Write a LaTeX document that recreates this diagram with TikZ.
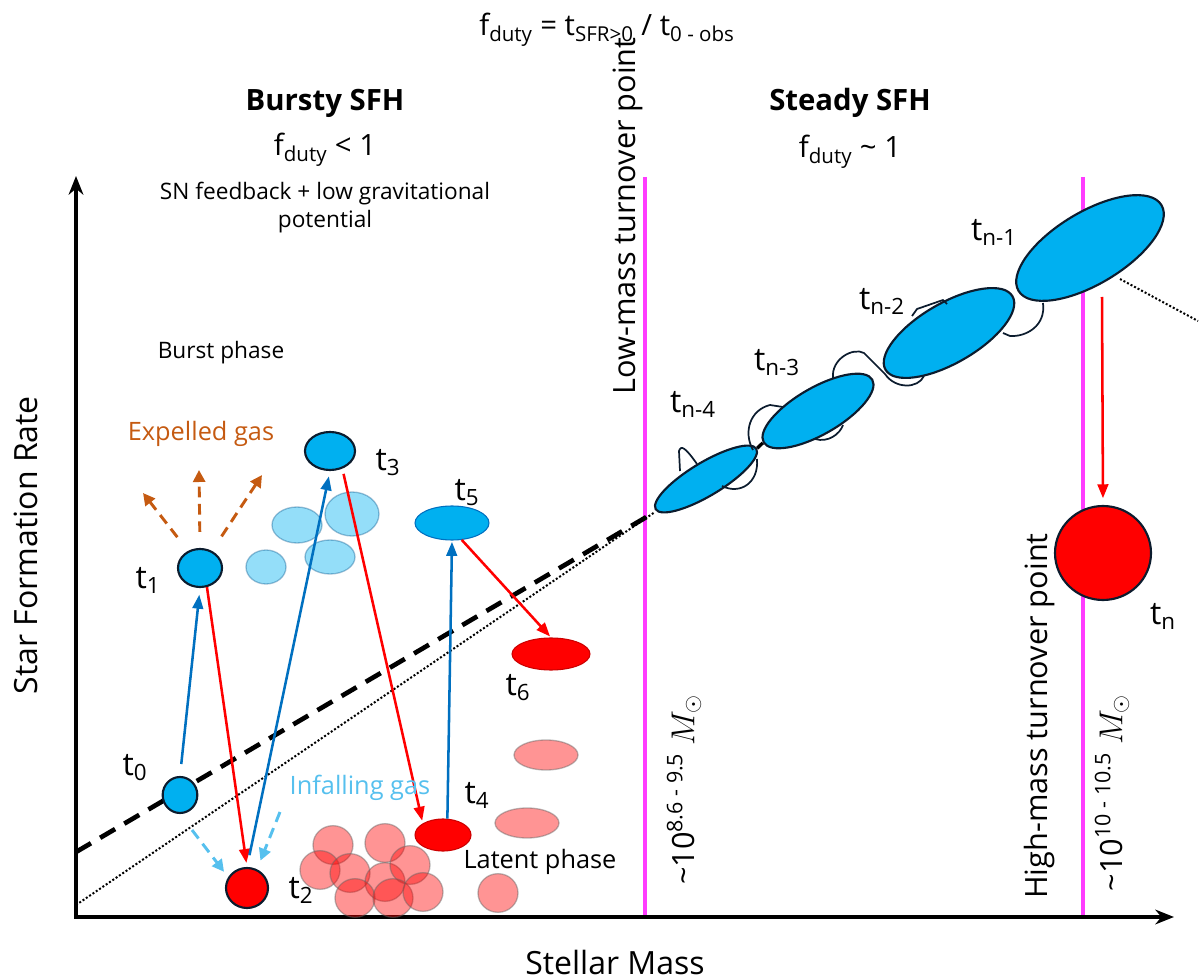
\documentclass[tikz,border=0pt]{standalone}
\usepackage{amsmath,amssymb}
\usepackage{fontspec}
\setmainfont{Open Sans}
\usetikzlibrary{arrows.meta,shapes.geometric}

\definecolor{galblue}{RGB}{0,176,240}
\definecolor{arrblue}{RGB}{0,112,192}
\definecolor{galedge}{RGB}{12,28,46}
\definecolor{turncol}{RGB}{255,60,255}
\definecolor{expelcol}{RGB}{197,90,17}
\definecolor{infallcol}{RGB}{86,192,238}

\tikzset{
  gal/.style={ellipse, draw=galedge, line width=1.6pt, fill=galblue, inner sep=0pt},
  galred/.style={gal, fill=red},
  latent/.style={ellipse, draw=black!60, line width=1pt, fill=red, fill opacity=0.42, draw opacity=0.45, inner sep=0pt},
  burstgas/.style={ellipse, draw=arrblue!70!black, line width=1pt, fill=galblue, fill opacity=0.42, draw opacity=0.35, inner sep=0pt},
  uparr/.style={draw=arrblue, line width=1.9pt, -{Triangle[length=10.5pt,width=8pt]}},
  downarr/.style={draw=red, line width=1.9pt, -{Triangle[length=10.5pt,width=8pt]}},
  expelarr/.style={draw=expelcol, line width=2.2pt, dash pattern=on 8pt off 5pt, -{Triangle[length=9pt,width=9pt]}},
  infallarr/.style={draw=infallcol, line width=2.2pt, dash pattern=on 8pt off 5pt, -{Triangle[length=9pt,width=9pt]}},
  wiggle/.style={draw=galedge, line width=1.3pt},
  lbl/.style={inner sep=0.75pt, font=\fontsize{24}{28}\selectfont},
  small/.style={inner sep=0.75pt, font=\fontsize{17}{20}\selectfont},
}

\begin{document}
\begin{tikzpicture}[x=0.75pt,y=0.75pt,yscale=-1,xscale=1]
\useasboundingbox (0,0) rectangle (1200,980);

% Axes
\coordinate (O) at (76,917);
\coordinate (ytip) at (76,176);
\coordinate (xtip) at (1174,917);
\draw [line width=3pt, {Stealth[length=14pt,width=11pt]}-{Stealth[length=14pt,width=11pt]}] (ytip) -- (O) -- (xtip);

% Turnover lines
\draw [turncol, line width=2.3pt] (645,177) -- (645,915);
\draw [turncol, line width=2.3pt] (1083,177) -- (1083,915);

% Shape: Latent gas
\foreach \cx/\cy [count=\i] in {333/845,385/843,320/870,350/873,385/882,410/865,355/898,393/898,423/892,498/893}
  \draw (\cx,\cy) node [latent, minimum width=30pt, minimum height=29pt] (lat\i) {};
\draw (546,755) node [latent, minimum width=48pt, minimum height=22.5pt] (latA) {};
\draw (527,823) node [latent, minimum width=48pt, minimum height=22.5pt] (latB) {};

% Shape: Burst gas
\draw (297,525) node [burstgas, minimum width=37.5pt, minimum height=27pt] (bgA) {};
\draw (352,514) node [burstgas, minimum width=40.5pt, minimum height=33pt] (bgB) {};
\draw (330,557) node [burstgas, minimum width=37.5pt, minimum height=25.5pt] (bgC) {};
\draw (266,567) node [burstgas, minimum width=30pt, minimum height=25.5pt] (bgD) {};

% Trend lines
\coordinate (dashA) at (76,852);
\coordinate (dotA) at (76,905);
\coordinate (knee) at (655,512);
\coordinate (dotB) at (1120,279);
\coordinate (dotC) at (1198,321);
\draw [line width=3.5pt, dash pattern=on 13pt off 8pt] (dashA) -- (knee);
\draw [line width=1.5pt, dash pattern=on 1.5pt off 1.5pt] (dotA) -- (knee);
\draw [line width=1.5pt, dash pattern=on 1.5pt off 1.5pt] (dotB) -- (dotC);

% Shape: Galaxies, bursty side
\draw (180,795) node [gal, minimum width=26pt, minimum height=27pt] (t0) {};
\draw (200,568) node [gal, minimum width=33pt, minimum height=28.5pt] (t1) {};
\draw (247,888) node [galred, minimum width=31.5pt, minimum height=30pt] (t2) {};
\draw (330,451) node [gal, minimum width=37.5pt, minimum height=28.5pt] (t3) {};
\draw (443,835) node [galred, draw=red!80!black, line width=0.8pt, minimum width=42pt, minimum height=24pt] (t4) {};
\draw (452,523) node [gal, draw=arrblue, line width=0.8pt, minimum width=55.5pt, minimum height=25.5pt] (t5) {};
\draw (551,654) node [galred, draw=red!80!black, line width=0.8pt, minimum width=58.5pt, minimum height=24pt] (t6) {};

% Shape: Galaxies, steady side
\draw (706,479) node [gal, rotate=31, minimum width=88pt, minimum height=25pt] (tnfour) {};
\draw (818,411) node [gal, rotate=30, minimum width=94pt, minimum height=35pt] (tnthree) {};
\draw (949,333) node [gal, rotate=30, minimum width=110pt, minimum height=45pt] (tntwo) {};
\draw (1090,248) node [gal, rotate=31, minimum width=125pt, minimum height=54pt] (tnone) {};
\draw (1103,553) node [galred, minimum width=72pt, minimum height=70.5pt] (tn) {};
\draw [line width=2.5pt] (tnfour.east) -- (tnthree.west);

% Wiggly outlines
\draw [wiggle] (680,471) -- (679,451) .. controls (681,445) and (685,447) .. (697,464);
\draw [wiggle] (722,486) .. controls (740,495) and (759,483) .. (757,459);
\draw [wiggle] (753,450) .. controls (743,432) and (750,410) .. (770,405) -- (783,407);
\draw [wiggle] (815,439) .. controls (828,443) and (840,434) .. (843,425);
\draw [wiggle] (833,378) .. controls (831,359) and (853,347) .. (864,353) -- (885,374) .. controls (895,389) and (918,389) .. (924,376);
\draw [wiggle] (912,316) -- (917,309) -- (943,300) -- (947,304);
\draw [wiggle] (1003,333) -- (1010,336) .. controls (1026,337) and (1046,326) .. (1043,303);

% Connection
\draw [uparr, shorten <=9pt, shorten >=5pt] (t0.north) -- (t1.south);
% Connection
\draw [downarr, shorten >=3pt] (t1.-70) -- (t2.north);
% Connection
\draw [uparr, shorten <=9pt, shorten >=4pt] (t2.north) -- (t3.south);
% Connection
\draw [downarr, shorten <=4pt, shorten >=2pt] (t3.-55) -- (t4.150);
% Connection
\draw [uparr, shorten >=1pt] (t4.75) -- (t5.south);
% Connection
\draw [downarr, shorten >=1pt] (t5.-60) -- (t6.north);
% Connection
\coordinate (tnfrom) at (1102,297);
\draw [downarr, shorten >=5pt] (tnfrom) -- (tn.north);

% Expelled gas
\coordinate (exA) at (143,493);
\coordinate (exB) at (199,470);
\coordinate (exC) at (262,475);
\draw [expelarr, shorten <=13pt] (t1.125) -- (exA);
\draw [expelarr, shorten <=12pt] (t1.90) -- (exB);
\draw [expelarr, shorten <=13pt] (t1.55) -- (exC);

% Infalling gas
\coordinate (inA) at (192,830);
\coordinate (inB) at (280,812);
\draw [infallarr, shorten >=5pt] (inA) -- (t2.150);
\draw [infallarr, shorten >=7pt] (inB) -- (t2.62);

% Text Node
\draw (607,30) node [lbl, font=\fontsize{22}{26}\selectfont] (title) {f\textsubscript{duty} = t\textsubscript{SFR>0} / t\textsubscript{0 - obs}};
% Text Node
\draw (325,103) node [lbl, font=\fontsize{22}{26}\bfseries\selectfont] (bursty) {Bursty SFH};
% Text Node
\draw (325,150) node [lbl, font=\fontsize{22}{26}\selectfont] (fbursty) {f\textsubscript{duty} < 1};
% Text Node
\draw (325,208) node [small, align=center, font=\fontsize{17}{21}\selectfont] (snfb) {SN feedback + low gravitational\\potential};
% Text Node
\draw (850,103) node [lbl, font=\fontsize{22}{26}\bfseries\selectfont] (steady) {Steady SFH};
% Text Node
\draw (850,152) node [lbl, font=\fontsize{22}{26}\selectfont] (fsteady) {f\textsubscript{duty} \textasciitilde{} 1};
% Text Node
\draw (628,216) node [lbl, rotate=90, font=\fontsize{23}{26}\selectfont] (lowturn) {Low-mass turnover point};
% Text Node
\draw (684,790) node [lbl, rotate=90, font=\fontsize{23}{26}\selectfont] (lowmass) {\textasciitilde10\textsuperscript{8.6 - 9.5} $M_\odot$};
% Text Node
\draw (1040,716) node [lbl, rotate=90, font=\fontsize{23}{26}\selectfont] (highturn) {High-mass turnover point};
% Text Node
\draw (1112,793) node [lbl, rotate=90, font=\fontsize{23}{26}\selectfont] (highmass) {\textasciitilde10\textsuperscript{10 - 10.5} $M_\odot$};
% Text Node
\draw (26,545) node [lbl, rotate=90] (sfr) {Star Formation Rate};
% Text Node
\draw (615,962) node [lbl] (smass) {Stellar Mass};
% Text Node
\draw (221,353) node [small] (burstph) {Burst phase};
% Text Node
\draw (201,434) node [small, text=expelcol, font=\fontsize{19}{22}\selectfont] (expel) {Expelled gas};
% Text Node
\draw (360,788) node [small, text=infallcol, font=\fontsize{19}{22}\selectfont] (infall) {Infalling gas};
% Text Node
\draw (540,862) node [small, font=\fontsize{19}{22}\selectfont] (latentph) {Latent phase};
% Text Node
\draw (135,768) node [lbl] (lt0) {t\textsubscript{0}};
\draw (148,580) node [lbl] (lt1) {t\textsubscript{1}};
\draw (301,890) node [lbl] (lt2) {t\textsubscript{2}};
\draw (388,463) node [lbl] (lt3) {t\textsubscript{3}};
\draw (477,795) node [lbl] (lt4) {t\textsubscript{4}};
\draw (467,493) node [lbl] (lt5) {t\textsubscript{5}};
\draw (518,688) node [lbl] (lt6) {t\textsubscript{6}};
\draw (693,404) node [lbl] (ltnfour) {t\textsubscript{n-4}};
\draw (777,363) node [lbl] (ltnthree) {t\textsubscript{n-3}};
\draw (882,301) node [lbl] (ltntwo) {t\textsubscript{n-2}};
\draw (994,232) node [lbl] (ltnone) {t\textsubscript{n-1}};
\draw (1163,616) node [lbl] (ltn) {t\textsubscript{n}};

\end{tikzpicture}
\end{document}
